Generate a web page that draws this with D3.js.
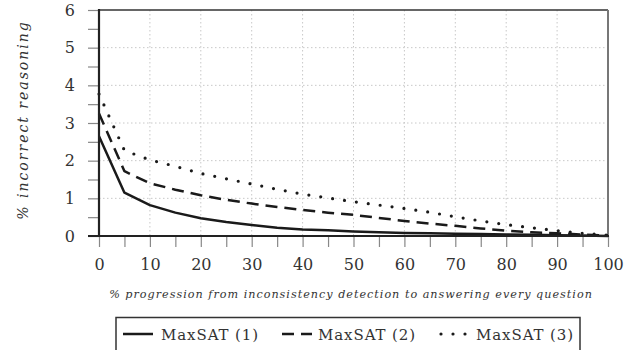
<!DOCTYPE html>
<html><head><meta charset="utf-8">
<script src="https://cdn.jsdelivr.net/npm/d3@7"></script>
<style>
html,body{margin:0;padding:0;background:#fff;}
svg{display:block;}
text{font-family:"DejaVu Serif","Liberation Serif",serif;fill:#333;}
</style></head>
<body>
<script>
const xValues = [0,5,10,15,20,25,30,35,40,45,50,55,60,65,70,75,80,85,90,95,100];
const maxsat1 = [2.65,1.15,0.82,0.62,0.47,0.37,0.29,0.22,0.17,0.15,0.12,0.10,0.08,0.07,0.06,0.05,0.04,0.03,0.02,0.01,0.0];
const maxsat2 = [3.25,1.72,1.40,1.23,1.08,0.96,0.86,0.77,0.69,0.62,0.56,0.48,0.40,0.33,0.27,0.20,0.14,0.10,0.07,0.04,0.01];
const maxsat3 = [3.77,2.27,2.02,1.85,1.66,1.52,1.38,1.24,1.11,1.01,0.91,0.82,0.73,0.63,0.51,0.40,0.30,0.22,0.14,0.07,0.02];
const seriesNames = ["MaxSAT (1)","MaxSAT (2)","MaxSAT (3)"];
const xTicks = [0,10,20,30,40,50,60,70,80,90,100];
const yTicks = [0,1,2,3,4,5,6];
const xLabel = "% progression from inconsistency detection to answering every question";
const yLabel = "% incorrect reasoning";

const FONT = '"DejaVu Serif","Liberation Serif",serif';
const W = 641, H = 350;
const svg = d3.select("body").append("svg").attr("width", W).attr("height", H);
const x = d3.scaleLinear().domain([0,100]).range([99,608]);
const y = d3.scaleLinear().domain([0,6]).range([236,10]);

// grid
const grid = svg.append("g");
grid.selectAll("line.vx").data(xTicks.filter(d=>d>0 && d<100)).enter().append("line")
  .attr("x1", d=>x(d)).attr("x2", d=>x(d)).attr("y1", y(6)).attr("y2", y(0))
  .attr("stroke", "#c8c8c8").attr("stroke-width", 1).attr("stroke-dasharray", "1.5,2.5");
grid.selectAll("line.hy").data(yTicks.filter(d=>d>0 && d<6)).enter().append("line")
  .attr("x1", x(0)).attr("x2", x(100)).attr("y1", d=>y(d)).attr("y2", d=>y(d))
  .attr("stroke", "#c8c8c8").attr("stroke-width", 1).attr("stroke-dasharray", "1.5,2.5");

// minor ticks via axes
const xAxis = d3.axisBottom(x).tickValues(d3.range(0,101,5)).tickSize(11).tickFormat("");
const gx = svg.append("g").attr("transform", `translate(0,${y(0)})`).call(xAxis);
gx.select(".domain").remove();
gx.selectAll(".tick line").attr("stroke", "#888").attr("stroke-width", 1.2);
const xLab = d3.axisBottom(x).tickValues(xTicks).tickSize(0).tickPadding(23).tickFormat(d3.format("d"));
const gx2 = svg.append("g").attr("transform", `translate(0,${y(0)})`).call(xLab);
gx2.attr("font-family", FONT);
gx2.select(".domain").remove();
gx2.selectAll(".tick text").style("font-family", FONT).attr("font-size", 16).attr("fill","#333");

const yAxis = d3.axisLeft(y).tickValues(d3.range(0,6.01,0.5)).tickSize(11).tickFormat("");
const gy = svg.append("g").attr("transform", `translate(${x(0)},0)`).call(yAxis);
gy.select(".domain").remove();
gy.selectAll(".tick line").attr("stroke", "#888").attr("stroke-width", 1.2);
const yLab = d3.axisLeft(y).tickValues(yTicks).tickSize(0).tickPadding(24).tickFormat(d3.format("d"));
const gy2 = svg.append("g").attr("transform", `translate(${x(0)},0)`).call(yLab);
gy2.attr("font-family", FONT);
gy2.select(".domain").remove();
gy2.selectAll(".tick text").style("font-family", FONT).attr("font-size", 16).attr("fill","#333");

// frame
svg.append("line").attr("x1", x(0)).attr("x2", x(100)).attr("y1", y(6)).attr("y2", y(6)).attr("stroke", "#333").attr("stroke-width", 1.5);
svg.append("line").attr("x1", x(100)).attr("x2", x(100)).attr("y1", y(6)).attr("y2", y(0)).attr("stroke", "#777").attr("stroke-width", 2);

// lines
const seriesData = [maxsat1, maxsat2, maxsat3];
const styles = [
  {dash: null, cap: "butt", w: 2.5},
  {dash: "12,7", cap: "butt", w: 2.5},
  {dash: "0,12", cap: "round", w: 3.2}
];
const line = d3.line().x(d=>x(d[0])).y(d=>y(d[1]));
seriesData.forEach((vals,i)=>{
  const pts = xValues.map((xv,j)=>[xv, vals[j]]);
  svg.append("path").datum(pts).attr("d", line).attr("fill","none")
    .attr("stroke", "#1a1a1a").attr("stroke-width", styles[i].w)
    .attr("stroke-linecap", styles[i].cap).attr("stroke-linejoin","round")
    .attr("stroke-dasharray", styles[i].dash);
});

// axes lines (thick)
svg.append("line").attr("x1", x(0)).attr("x2", x(0)).attr("y1", y(6)-1).attr("y2", y(0)+1).attr("stroke", "#222").attr("stroke-width", 2.2);
svg.append("line").attr("x1", x(0)-11).attr("x2", x(100)+1).attr("y1", y(0)).attr("y2", y(0)).attr("stroke", "#222").attr("stroke-width", 2.2);

// axis labels
svg.append("text").attr("x", 351).attr("y", 298).attr("text-anchor","middle").style("font-family", FONT)
  .attr("font-style","italic").attr("font-size", 11.2).attr("letter-spacing", 1.0).text(xLabel);
svg.append("text").attr("transform", `translate(28,120) rotate(-90)`).attr("text-anchor","middle").style("font-family", FONT)
  .attr("font-style","italic").attr("font-size", 14).attr("letter-spacing", 2.0).text(yLabel);

// legend
const lg = svg.append("g");
lg.append("rect").attr("x", 116).attr("y", 317.5).attr("width", 464).attr("height", 50)
  .attr("fill","none").attr("stroke","#333").attr("stroke-width", 1.5);
const legendX = [123, 282, 439];
const legendTextX = [161, 318, 476];
seriesNames.forEach((name,i)=>{
  const lx = legendX[i];
  lg.append("line").attr("x1", lx + (i===2?2:0)).attr("x2", lx + 30).attr("y1", 334).attr("y2", 334)
    .attr("stroke","#1a1a1a").attr("stroke-width", styles[i].w)
    .attr("stroke-linecap", styles[i].cap)
    .attr("stroke-dasharray", i===1 ? "12,7" : (i===2 ? "0,12" : null));
  lg.append("text").attr("x", legendTextX[i]).attr("y", 339.5).style("font-family", FONT)
    .attr("font-size", 15).attr("letter-spacing", 0.9).text(name);
});
</script>
</body></html>
